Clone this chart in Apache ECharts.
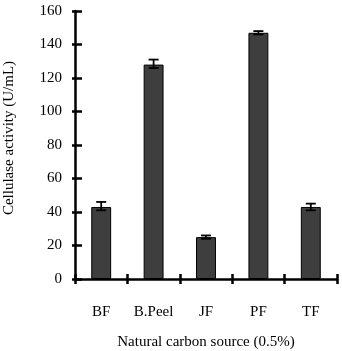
<!DOCTYPE html>
<html>
<head>
<meta charset="utf-8">
<script src="https://cdn.jsdelivr.net/npm/echarts@6/dist/echarts.min.js"></script>
<style>
  html, body { margin: 0; padding: 0; background: #fff; }
  #chart { width: 342px; height: 351px; }
</style>
</head>
<body>
<div id="chart"></div>
<script>
const categories = ['BF', 'B.Peel', 'JF', 'PF', 'TF'];
const activity = [43, 128, 25, 147, 43];
const errLow = [41, 126, 24, 146, 41];
const errHigh = [46, 131, 26, 148, 45];

const fontFamily = '"Liberation Serif", "DejaVu Serif", serif';

const myChart = echarts.init(document.getElementById('chart'));
const option = {
  animation: false,
  grid: { left: 75, right: 5, top: 11, bottom: 72, outerBoundsMode: 'none', containLabel: false },
  xAxis: [{
    type: 'category',
    data: categories,
    axisLine: { lineStyle: { color: '#000', width: 2.5 } },
    axisTick: { show: true, length: 5, lineStyle: { color: '#000', width: 2.5 } },
    axisLabel: { color: '#000', fontFamily: fontFamily, fontSize: 15, margin: 26, interval: 0 },
    name: 'Natural carbon source (0.5%)',
    nameLocation: 'middle',
    nameGap: 56,
    nameTextStyle: { color: '#000', fontFamily: fontFamily, fontSize: 15 }
  }, {
    type: 'category',
    data: categories,
    position: 'bottom',
    axisLine: { show: false },
    axisTick: { show: true, inside: true, length: 5, lineStyle: { color: '#000', width: 2.5 } },
    axisLabel: { show: false }
  }],
  yAxis: [{
    type: 'value',
    min: 0,
    max: 160,
    interval: 20,
    splitLine: { show: false },
    axisLine: { show: true, lineStyle: { color: '#000', width: 2.5 } },
    axisTick: { show: true, inside: true, length: 7, lineStyle: { color: '#000', width: 2.5 } },
    axisLabel: { color: '#000', fontFamily: fontFamily, fontSize: 15, margin: 13 },
    name: 'Cellulase activity (U/mL)',
    nameLocation: 'middle',
    nameGap: 58,
    nameTextStyle: { color: '#000', fontFamily: fontFamily, fontSize: 15, padding: [0, 0, 0, 14] }
  }, {
    type: 'value',
    min: 0,
    max: 160,
    interval: 20,
    position: 'left',
    splitLine: { show: false },
    axisLine: { show: false },
    axisTick: { show: true, length: 3, lineStyle: { color: '#000', width: 2.5 } },
    axisLabel: { show: false }
  }],
  series: [{
    type: 'bar',
    data: activity,
    barWidth: '38%',
    itemStyle: { color: '#3e3e3e', borderColor: '#000', borderWidth: 1 }
  }, {
    type: 'custom',
    data: categories.map((c, i) => [i, errLow[i], errHigh[i]]),
    renderItem: function (params, api) {
      const lo = api.coord([api.value(0), api.value(1)]);
      const hi = api.coord([api.value(0), api.value(2)]);
      const hw = 5;
      const st = { stroke: '#000', lineWidth: 1.8 };
      return {
        type: 'group',
        children: [
          { type: 'line', shape: { x1: hi[0], y1: hi[1], x2: lo[0], y2: lo[1] }, style: st },
          { type: 'line', shape: { x1: hi[0] - hw, y1: hi[1], x2: hi[0] + hw, y2: hi[1] }, style: st },
          { type: 'line', shape: { x1: lo[0] - hw, y1: lo[1], x2: lo[0] + hw, y2: lo[1] }, style: st }
        ]
      };
    },
    z: 10
  }]
};
myChart.setOption(option);
</script>
</body>
</html>
